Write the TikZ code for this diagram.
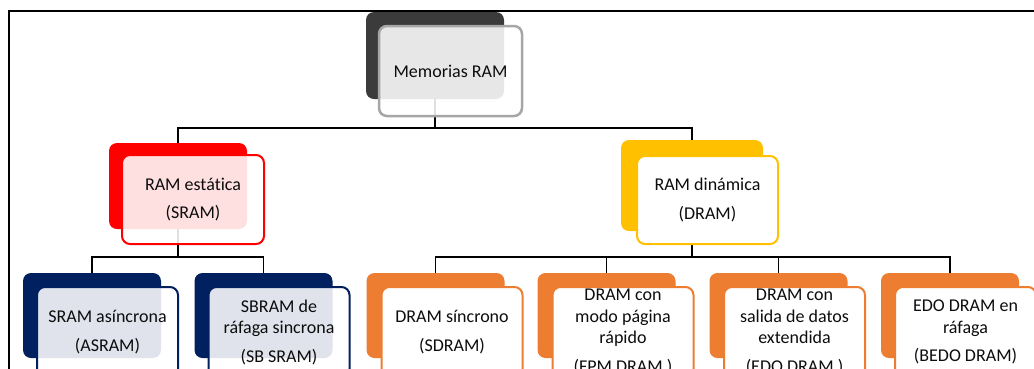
\documentclass[tikz,border=0pt]{standalone}
\usepackage{fontspec}
\setmainfont{Carlito}[Ligatures={NoCommon}]
\usetikzlibrary{backgrounds}
\definecolor{greyback}{HTML}{3B3B3B}
\definecolor{greyline}{HTML}{A6A6A6}
\definecolor{redback}{HTML}{FF0000}
\definecolor{yellowback}{HTML}{FFC000}
\definecolor{navyback}{HTML}{002060}
\definecolor{orangeback}{HTML}{ED7D31}
\newcommand{\boxfont}{\fontsize{18}{21.5}\selectfont}
\begin{document}
\begin{tikzpicture}[x=1pt,y=-1pt,
  backbox/.style={draw=none, rounded corners=8pt, minimum width=138pt,
    minimum height=85pt, inner sep=0pt},
  frontbox/.style={rounded corners=8pt, line width=2pt, minimum width=141pt,
    minimum height=90pt, inner sep=0pt, align=center, font=\boxfont,
    text=black!95},
  tinted/.style={fill=white, fill opacity=0.88, text opacity=1},
  plain/.style={fill=white},
  conn/.style={line width=1.3pt, black}]
\useasboundingbox (0,0) rectangle (1034,368);
\clip (0,0) rectangle (1034,368);

% outer frame
\draw[line width=1.5pt] (9,11) rectangle (1045,385);

% back plates
\node[backbox, fill=greyback, minimum height=87pt] (topb) at (435,55.5) {};
\node[backbox, fill=redback, minimum height=86pt] (estb) at (178,186) {};
\node[backbox, fill=yellowback, minimum width=142pt, minimum height=91pt] (dinb) at (692,185.5) {};
\node[backbox, fill=navyback] (asrb) at (92,315.5) {};
\node[backbox, fill=navyback] (sbsb) at (263.5,315.5) {};
\node[backbox, fill=orangeback] (sdrb) at (435.5,315.5) {};
\node[backbox, fill=orangeback] (fpmb) at (606.5,315.5) {};
\node[backbox, fill=orangeback] (edob) at (778.5,315.5) {};
\node[backbox, fill=orangeback] (bedb) at (950,315.5) {};

% junction points of the tree
\coordinate (j0) at (435,128);
\coordinate (j1) at (178,257);
\coordinate (j2) at (692,257);

% connectors, kept behind the plates
\begin{scope}[on background layer]
\draw[conn] (topb.center) -- (j0);
\draw[conn] (j0) -| (estb.north);
\draw[conn] (j0) -| (dinb.north);
\draw[conn] (estb.center) -- (j1);
\draw[conn] (j1) -| (asrb.north);
\draw[conn] (j1) -| (sbsb.north);
\draw[conn] (dinb.center) -- (j2);
\draw[conn] (j2) -| (sdrb.north);
\draw[conn] (j2) -| (fpmb.north);
\draw[conn] (j2) -| (edob.north);
\draw[conn] (j2) -| (bedb.north);
\end{scope}

% front cards with labels
\node[frontbox, tinted, draw=greyline, line width=2.5pt, minimum width=143pt] (top) at (450.5,71)
  {Memorias RAM};
\node[frontbox, tinted, draw=redback, minimum width=142pt, minimum height=89pt] (est) at (193,199.5)
  {RAM estática\\[7pt](SRAM)};
\node[frontbox, plain, draw=yellowback, minimum height=88pt] (din) at (707.5,200)
  {RAM dinámica\\[7pt](DRAM)};
\node[frontbox, tinted, draw=navyback] (asr) at (107.5,332)
  {SRAM asíncrona\\[7pt](ASRAM)};
\node[frontbox, tinted, draw=navyback] (sbs) at (279,332)
  {SBRAM de\\ráfaga sincrona\\[7pt](SB SRAM)};
\node[frontbox, plain, draw=orangeback] (sdr) at (452,332)
  {DRAM síncrono\\[7pt](SDRAM)};
\node[frontbox, plain, draw=orangeback] (fpm) at (623,332)
  {DRAM con\\modo página\\rápido\\[7pt](FPM DRAM )};
\node[frontbox, plain, draw=orangeback] (edo) at (794.5,332)
  {DRAM con\\salida de datos\\extendida\\[7pt](EDO DRAM )};
\node[frontbox, plain, draw=orangeback] (bed) at (965.5,332)
  {EDO DRAM en\\ráfaga\\[7pt](BEDO DRAM)};
\end{tikzpicture}
\end{document}
